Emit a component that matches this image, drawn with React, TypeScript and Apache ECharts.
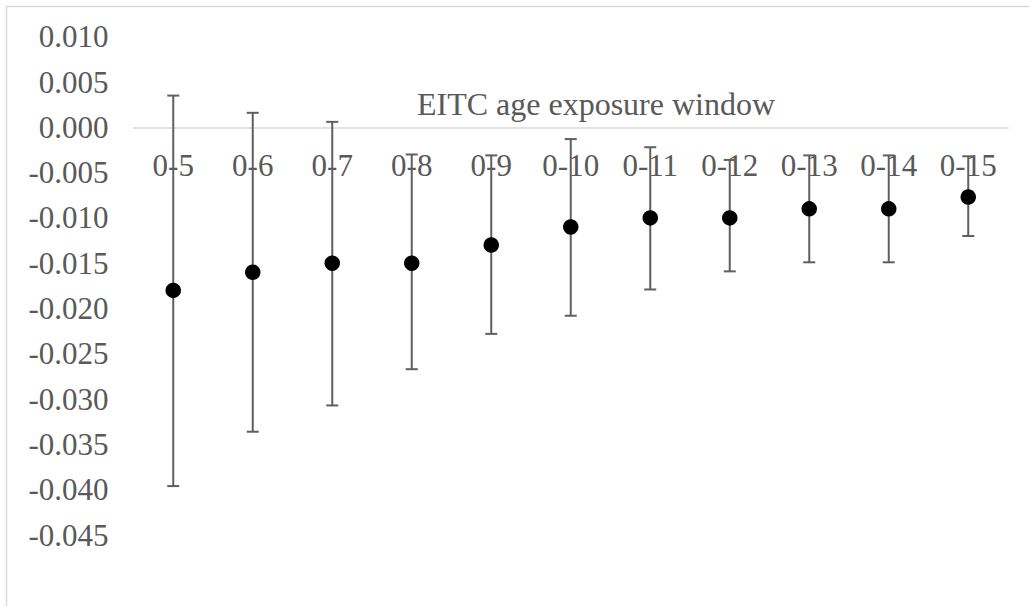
import React, { useEffect, useRef } from "react";
import * as echarts from "echarts";

// Age exposure windows and their estimated effects with confidence bounds
const categories = ["0-5", "0-6", "0-7", "0-8", "0-9", "0-10", "0-11", "0-12", "0-13", "0-14", "0-15"];
const estimates = [-0.018, -0.016, -0.015, -0.015, -0.013, -0.011, -0.010, -0.010, -0.009, -0.009, -0.0077];
const upperBounds = [0.0035, 0.0016, 0.0006, -0.0030, -0.0031, -0.0013, -0.0022, -0.0036, -0.0031, -0.0031, -0.0032];
const lowerBounds = [-0.0396, -0.0336, -0.0307, -0.0267, -0.0228, -0.0208, -0.0179, -0.0159, -0.0149, -0.0149, -0.0120];

const yMin = -0.05;
const yMax = 0.01;
const yStep = 0.005;
const axisTitle = "EITC age exposure window";

const FONT = "Liberation Serif";
const TEXT_COLOR = "#595959";
const BAR_COLOR = "#5f5f5f";

// plot box in pixels
const GRID_TOP = 36.7;
const GRID_BOTTOM = 25.7;
const CHART_H = 606;

export default function App() {
  const ref = useRef<HTMLDivElement>(null);

  useEffect(() => {
    if (!ref.current) return;
    const chart = echarts.init(ref.current, undefined, { renderer: "svg" });

    const errorData = categories.map((_, i) => [i, lowerBounds[i], upperBounds[i]]);

    // the category axis sits on the zero line; shift it up from the plot bottom
    const plotH = CHART_H - GRID_TOP - GRID_BOTTOM;
    const zeroOffset = -plotH * (0 - yMin) / (yMax - yMin);

    chart.setOption({
      animation: false,
      backgroundColor: "#ffffff",
      textStyle: { fontFamily: FONT },
      title: {
        text: axisTitle,
        left: 591,
        top: 83,
        textAlign: "center",
        textStyle: {
          fontFamily: FONT,
          fontSize: 32,
          fontWeight: "normal",
          color: TEXT_COLOR,
        },
      },
      graphic: [
        {
          type: "rect",
          shape: { x: 6.5, y: 6.5, width: 1100, height: 700 },
          style: { fill: "none", stroke: "#d9d9d9", lineWidth: 1.5 },
          silent: true,
          z: -1,
        },
      ],
      grid: {
        left: 133.5,
        right: 21,
        top: GRID_TOP,
        bottom: GRID_BOTTOM,
        containLabel: false,
      },
      xAxis: {
        type: "category",
        data: categories,
        position: "bottom",
        offset: zeroOffset,
        axisLine: { onZero: false, lineStyle: { color: "#d9d9d9", width: 1.5 } },
        axisTick: { show: false },
        splitLine: { show: false },
        axisLabel: {
          interval: 0,
          margin: 23,
          fontFamily: FONT,
          fontSize: 31,
          color: TEXT_COLOR,
        },
      },
      yAxis: {
        type: "value",
        min: yMin,
        max: yMax,
        interval: yStep,
        axisLine: { show: false },
        axisTick: { show: false },
        splitLine: { show: false },
        axisLabel: {
          margin: 25,
          fontFamily: FONT,
          fontSize: 31,
          color: TEXT_COLOR,
          formatter: (v: number) => (Math.abs(v - yMin) < 1e-9 ? "" : v.toFixed(3)),
        },
      },
      series: [
        {
          type: "custom",
          name: "interval",
          z: 3,
          data: errorData,
          renderItem: (_params: any, api: any) => {
            const idx = api.value(0);
            const lo = api.coord([idx, api.value(1)]);
            const hi = api.coord([idx, api.value(2)]);
            const half = 6;
            const style = { stroke: BAR_COLOR, lineWidth: 2 };
            return {
              type: "group",
              children: [
                { type: "line", shape: { x1: hi[0], y1: hi[1], x2: lo[0], y2: lo[1] }, style },
                { type: "line", shape: { x1: hi[0] - half, y1: hi[1], x2: hi[0] + half, y2: hi[1] }, style },
                { type: "line", shape: { x1: lo[0] - half, y1: lo[1], x2: lo[0] + half, y2: lo[1] }, style },
              ],
            };
          },
        },
        {
          type: "scatter",
          name: "estimate",
          z: 4,
          data: estimates,
          symbol: "circle",
          symbolSize: 15.5,
          itemStyle: { color: "#000000", opacity: 1 },
        },
      ],
    });

    return () => chart.dispose();
  }, []);

  return (
    <div
      ref={ref}
      style={{ position: "fixed", left: 0, top: 0, width: 1029, height: 606, background: "#fff" }}
    />
  );
}
